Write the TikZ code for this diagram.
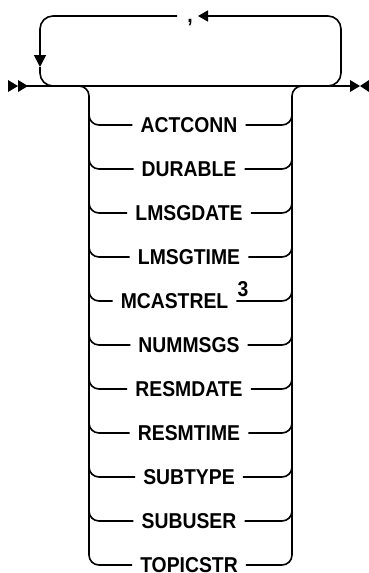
\documentclass[tikz,border=0pt]{standalone}
\usepackage{fontspec}
\setmainfont{Liberation Sans}
\newfontfamily\kwfont{Liberation Sans}[FakeStretch=0.9]
\usetikzlibrary{arrows.meta}
\begin{document}
\begin{tikzpicture}[x=1pt,y=-1pt,font=\kwfont\bfseries\fontsize{21.5}{24}\selectfont]
 \tikzstyle{e} = [line width=1.6pt]
 \tikzstyle{br} = [e, rounded corners=10pt]
 \tikzstyle{lp} = [e, rounded corners=13pt]
 \tikzstyle{kw} = [inner xsep=8pt, inner ysep=0pt, text height=15.5pt, text depth=0pt]
    \useasboundingbox (0,0) rectangle (369,573);
    %%

        \coordinate (start) at (18,86);
        \coordinate (end) at (350,86);
        \coordinate (bl) at (79,86);
        \coordinate (brt) at (303,86);
        \coordinate (ll) at (56,86);
        \coordinate (lr) at (326,86);
        \coordinate (cl) at (177,16);
        \coordinate (cr) at (198,16);
        \coordinate (ad) at (40,67);

        \node[anchor=base] (comma) at (190,22) {,};

        \node[kw] (k1) at (189,125) {ACTCONN};
        \node[kw] (k2) at (189,169) {DURABLE};
        \node[kw] (k3) at (189,213) {LMSGDATE};
        \node[kw] (k4) at (189,257) {LMSGTIME};
        \node[kw] (k5) at (174.5,301) {MCASTREL};
        \node[kw] (sup) at (243,289) {3};
        \node[kw] (k6) at (189,345) {NUMMSGS};
        \node[kw] (k7) at (189,389) {RESMDATE};
        \node[kw] (k8) at (189,433) {RESMTIME};
        \node[kw] (k9) at (189,477) {SUBTYPE};
        \node[kw] (k10) at (189,521) {SUBUSER};
        \node[kw] (k11) at (189,565) {TOPICSTR};

        % main line and its ends
        \draw[e] (start) -- (end);
        \fill (8,80) -- (18,86) -- (8,92) -- cycle;
        \fill (18,80) -- (28,86) -- (18,92) -- cycle;
        \fill (350,80) -- (360,86) -- (350,92) -- cycle;
        \fill (369,80) -- (360,86) -- (369,92) -- cycle;

        % repeat loop
        \draw[lp,-{Triangle[length=12pt,width=12pt]}] (cl) -| (ad);
        \draw[lp] (ad) |- (ll);
        \draw[lp,-{Triangle[length=10pt,width=11pt]}] (lr) -| (341,16) -- (cr);

        % choices
        \draw[br] (bl) -| (89,565) -- (k11.west);
        \draw[br] (brt) -| (292,565) -- (k11.east);
        \foreach \i/\y in {1/125,2/169,3/213,4/257,5/301,6/345,7/389,8/433,9/477,10/521} {
            \draw[br] (89,\y-20) |- (k\i.west);
            \draw[br] (k\i.east) -| (292,\y-20);
        }

    \end{tikzpicture}
\end{document}
